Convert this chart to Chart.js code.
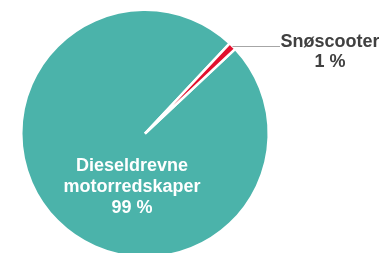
<!DOCTYPE html>
<html>
<head>
<meta charset="utf-8">
<script src="https://cdn.jsdelivr.net/npm/chart.js@4"></script>
<style>
  html, body { margin: 0; padding: 0; background: #fff; overflow: hidden; }
  #wrap { width: 379px; height: 253px; overflow: hidden; }
</style>
</head>
<body>
<div id="wrap"><canvas id="pie-canvas" width="379" height="260"></canvas></div>
<script>
// data
var categories = [["Dieseldrevne", "motorredskaper"], ["Snøscooter"]];
var shares = [99, 1];
var colors = ["#4BB3AA", "#E2102E"];

// labels drawn on top of the pie
var pieLabels = {
  id: "pieLabels",
  afterDraw: function (chart) {
    var ctx = chart.ctx;
    var arcs = chart.getDatasetMeta(0).data;
    var big = arcs[0], small = arcs[1];
    var cx = big.x, cy = big.y;
    ctx.save();
    ctx.font = "bold 18px 'Liberation Sans', Arial, sans-serif";
    ctx.textAlign = "center";
    ctx.textBaseline = "alphabetic";

    // inside label
    ctx.fillStyle = "#ffffff";
    var lines = categories[0].concat([shares[0] + " %"]);
    lines.forEach(function (t, i) {
      ctx.fillText(t, cx - 13, cy + 37 + i * 21);
    });

    // leader line + outside label
    var mid = (small.startAngle + small.endAngle) / 2;
    var r = small.outerRadius;
    var px = cx + Math.cos(mid) * r;
    var py = cy + Math.sin(mid) * r;
    ctx.strokeStyle = "#A6A6A6";
    ctx.lineWidth = 1;
    ctx.beginPath();
    ctx.moveTo(px, Math.round(py) + 0.5);
    ctx.lineTo(280, Math.round(py) + 0.5);
    ctx.stroke();

    ctx.fillStyle = "#404040";
    var out = categories[1].concat([shares[1] + " %"]);
    out.forEach(function (t, i) {
      ctx.fillText(t, 330, 47 + i * 20);
    });
    ctx.restore();
  },
};

new Chart(document.getElementById("pie-canvas"), {
  type: "pie",
  data: {
    labels: categories.map(function (c) { return c.join(" "); }),
    datasets: [
      {
        data: shares,
        backgroundColor: colors,
        borderColor: "#ffffff",
        borderWidth: 2.5,
      },
    ],
  },
  options: {
    responsive: false,
    animation: false,
    rotation: 46.8,
    layout: {
      padding: { left: 20, right: 109, top: 8, bottom: 1 },
    },
    plugins: {
      legend: { display: false },
      tooltip: { enabled: false },
    },
  },
  plugins: [pieLabels],
});
</script>
</body>
</html>
